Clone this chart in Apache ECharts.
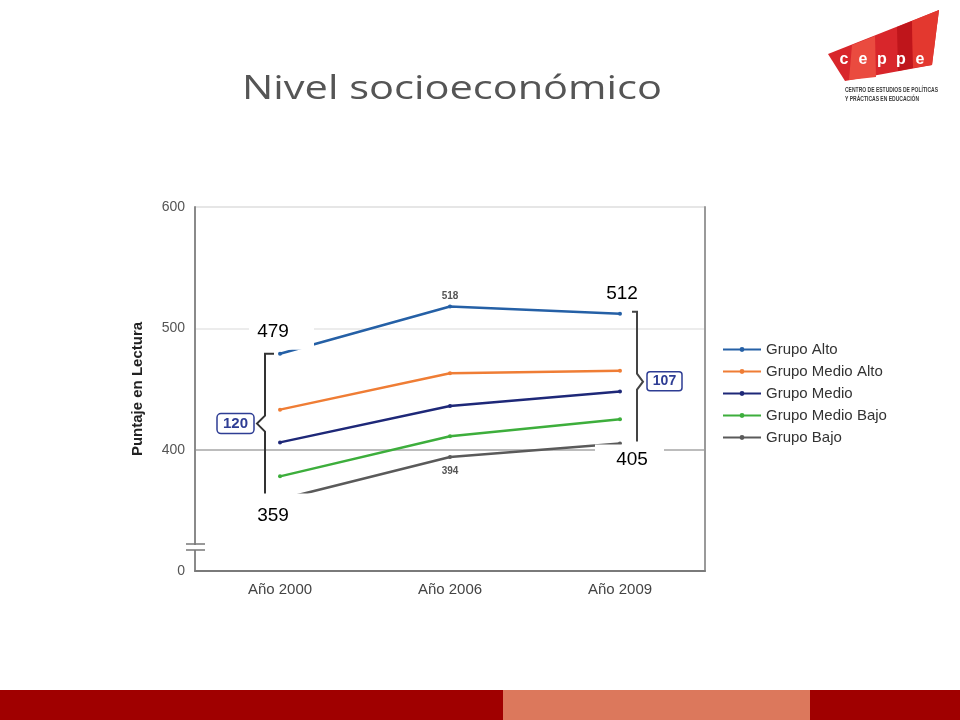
<!DOCTYPE html>
<html>
<head>
<meta charset="utf-8">
<script src="https://cdn.jsdelivr.net/npm/echarts@6/dist/echarts.min.js"></script>
<style>
html,body{margin:0;padding:0;background:#fff;}
#chart{width:960px;height:720px;}
</style>
</head>
<body>
<div id="chart"></div>
<script>
// ---- data ----
const titleText = 'Nivel socioeconómico';
const categories = ['Año 2000', 'Año 2006', 'Año 2009'];
const seriesNames = ['Grupo Alto', 'Grupo Medio Alto', 'Grupo Medio', 'Grupo Medio Bajo', 'Grupo Bajo'];
const grupoAlto = [479, 518, 512];
const grupoMedioAlto = [433, 463, 465];
const grupoMedio = [406, 436, 448];
const grupoMedioBajo = [378, 411, 425];
const grupoBajo = [359, 394, 405];
const yTickLabels = ['0', '400', '500', '600'];
const yTickValues = [300, 400, 500, 600];
const axisName = 'Puntaje en Lectura';
const logoWord = ['c', 'e', 'p', 'p', 'e'];
const logoLines = ['CENTRO DE ESTUDIOS DE POLÍTICAS', 'Y PRÁCTICAS EN EDUCACIÓN'];

const colors = ['#2560a6', '#ef7d35', '#1e2878', '#3dae3c', '#5a5a5a'];
const allSeries = [grupoAlto, grupoMedioAlto, grupoMedio, grupoMedioBajo, grupoBajo];

const chart = echarts.init(document.getElementById('chart'), null, {renderer: 'canvas'});

function buildData(arr, sIdx) {
  return arr.map(function (v, i) {
    if (sIdx === 0 && i === 1) {
      return {value: v, label: {show: true, position: 'top', distance: 3, fontSize: 10, fontWeight: 'bold', color: '#555', fontFamily: 'Arial'}};
    }
    if (sIdx === 4 && i === 1) {
      return {value: v, label: {show: true, position: 'bottom', distance: 7, fontSize: 10, fontWeight: 'bold', color: '#555', fontFamily: 'Arial'}};
    }
    return v;
  });
}

const option = {
  animation: false,
  backgroundColor: '#ffffff',
  color: colors,
  grid: {left: 195, right: 255, top: 207, bottom: 149},
  legend: {
    orient: 'vertical', left: 717, top: 337,
    itemWidth: 38, itemHeight: 6, itemGap: 7,
    data: seriesNames,
    textStyle: {fontFamily: 'Arial', fontSize: 15, color: '#333', lineHeight: 14}
  },
  xAxis: {
    type: 'category', data: categories, boundaryGap: true,
    axisLine: {lineStyle: {color: '#7a7a7a', width: 2}},
    axisTick: {inside: true, alignWithLabel: true, length: 7, lineStyle: {color: '#777'}},
    axisLabel: {fontFamily: 'Arial', fontSize: 15, color: '#444', margin: 11}
  },
  yAxis: [{
    type: 'value', min: 300, max: 600, interval: 100,
    name: axisName, nameLocation: 'middle', nameGap: 50,
    nameTextStyle: {fontFamily: 'Arial', fontWeight: 'bold', fontSize: 15, color: '#222'},
    axisLine: {show: true, lineStyle: {color: '#8a8a8a', width: 2}},
    axisTick: {show: false},
    axisLabel: {
      fontFamily: 'Arial', fontSize: 14, color: '#555', margin: 10,
      formatter: function (v) { const k = yTickValues.indexOf(v); return k >= 0 ? yTickLabels[k] : ''; }
    },
    splitLine: {lineStyle: {color: ['#888888', '#a6a6a6', '#e6e6e6', '#dedede'], width: 1.5}}
  }, {
    type: 'value', position: 'right', min: 300, max: 600, interval: 100,
    axisLine: {show: true, lineStyle: {color: '#9a9a9a', width: 2}},
    axisLabel: {show: false}, axisTick: {show: false}, splitLine: {show: false}
  }],
  series: allSeries.map(function (arr, i) {
    return {
      name: seriesNames[i], type: 'line', data: buildData(arr, i),
      symbol: 'circle', symbolSize: 4, showSymbol: true,
      lineStyle: {width: 2.5, color: colors[i]},
      itemStyle: {color: colors[i]},
      z: 2
    };
  })
};
chart.setOption(option);

// ---- annotations positioned through the chart's scales ----
function px(ci, v) { return chart.convertToPixel({gridIndex: 0}, [ci, v]); }
const g = [];
const Z = 100;
const cv = document.createElement('canvas').getContext('2d');
function fitScale(text, font, width) { cv.font = font; const w = cv.measureText(text).width; return w > 0 ? width / w : 1; }

// left brace (Año 2000: alto vs bajo)
const lTop = px(0, grupoAlto[0]);
const lBot = px(0, grupoBajo[0]);
const lx = lTop[0] - 15;
const lMid = (lTop[1] + lBot[1]) / 2 - 3;
g.push({type: 'polyline', z: Z, shape: {points: [[lx + 9, lTop[1]], [lx, lTop[1]], [lx, lMid - 8], [lx - 8, lMid], [lx, lMid + 8], [lx, lBot[1]]]}, style: {stroke: '#333', lineWidth: 2, fill: null}});
// right brace (Año 2009)
const rTop = px(2, grupoAlto[2]);
const rBot = px(2, grupoBajo[2]);
const rx = rTop[0] + 17;
const rMid = (rTop[1] + rBot[1]) / 2 + 3;
g.push({type: 'polyline', z: Z, shape: {points: [[rx - 5, rTop[1] - 2], [rx, rTop[1] - 2], [rx, rMid - 8], [rx + 6, rMid], [rx, rMid + 8], [rx, rBot[1] - 2]]}, style: {stroke: '#444', lineWidth: 2, fill: null}});

// gap boxes
const gapL = grupoAlto[0] - grupoBajo[0];
const gapR = grupoAlto[2] - grupoBajo[2];
g.push({type: 'rect', z: Z, shape: {x: lx - 48, y: lMid - 10, width: 37, height: 20, r: 4}, style: {fill: '#fff', stroke: '#2e3d94', lineWidth: 1.5}});
g.push({type: 'text', z: Z + 1, style: {x: lx - 29.5, y: lMid, text: String(gapL), fill: '#2e3d94', font: 'bold 15px Arial', align: 'center', verticalAlign: 'middle'}});
g.push({type: 'rect', z: Z, shape: {x: rx + 10, y: rMid - 10, width: 35, height: 19, r: 3}, style: {fill: '#fff', stroke: '#2e3d94', lineWidth: 1.5}});
g.push({type: 'text', z: Z + 1, style: {x: rx + 27.5, y: rMid - 0.5, text: String(gapR), fill: '#2e3d94', font: 'bold 14px Arial', align: 'center', verticalAlign: 'middle'}});

// big value labels with white backgrounds
function bigLabel(p, dx, dy, txt, box) {
  if (box) g.push({type: 'rect', z: Z, shape: {x: p[0] + box[0], y: p[1] + box[1], width: box[2], height: box[3]}, style: {fill: '#fff'}});
  g.push({type: 'text', z: Z + 1, style: {x: p[0] + dx, y: p[1] + dy, text: txt, fill: '#000', font: '19px Arial', align: 'center', verticalAlign: 'middle'}});
}
bigLabel(lTop, -7, -22, String(grupoAlto[0]), [-31, -38, 65, 34]);
bigLabel(lBot, -7, 16, String(grupoBajo[0]), [-31, -6, 62, 42]);
bigLabel(rTop, 2, -20, String(grupoAlto[2]), null);
bigLabel(rBot, 12, 16, String(grupoBajo[2]), [-25, 1, 69, 30]);

// axis break mark
g.push({type: 'rect', z: Z, shape: {x: 188, y: 545, width: 16, height: 5}, style: {fill: '#fff'}});
g.push({type: 'line', z: Z, shape: {x1: 186, y1: 544, x2: 205, y2: 544}, style: {stroke: '#777', lineWidth: 1.5}});
g.push({type: 'line', z: Z, shape: {x1: 186, y1: 550, x2: 205, y2: 550}, style: {stroke: '#777', lineWidth: 1.5}});

// title (stretched to match)
const titleFont = '33px "Open Sans"';
g.push({type: 'text', z: Z, x: 452, y: 90, scaleX: fitScale(titleText, titleFont, 420), style: {x: 0, y: 0, text: titleText, fill: '#555555', font: titleFont, align: 'center', verticalAlign: 'middle'}});

// footer bars
g.push({type: 'rect', z: Z, shape: {x: 0, y: 690, width: 503, height: 30}, style: {fill: '#a00000'}});
g.push({type: 'rect', z: Z, shape: {x: 503, y: 690, width: 307, height: 30}, style: {fill: '#dc785c'}});
g.push({type: 'rect', z: Z, shape: {x: 810, y: 690, width: 150, height: 30}, style: {fill: '#a00000'}});

// logo
g.push({type: 'polygon', z: Z, shape: {points: [[828, 54], [939, 10], [932, 65], [845, 81]]}, style: {fill: '#d8262b'}});
g.push({type: 'polygon', z: Z, shape: {points: [[852, 45], [875, 36], [876, 77], [849, 80]]}, style: {fill: '#ea4b3f'}});
g.push({type: 'polygon', z: Z, shape: {points: [[897, 27], [912, 21], [913, 68], [898, 71]]}, style: {fill: '#bf151b'}});
g.push({type: 'polygon', z: Z, shape: {points: [[912, 21], [939, 10], [932, 65], [913, 68]]}, style: {fill: '#e3382f'}});
logoWord.forEach(function (ch, i) {
  g.push({type: 'text', z: Z + 1, style: {x: 844 + i * 19, y: 60, text: ch, fill: '#fff', font: 'bold 16px Arial', align: 'center', verticalAlign: 'middle'}});
});
const logoFont = 'bold 7px Arial';
const logoScale = fitScale(logoLines[0], logoFont, 93);
logoLines.forEach(function (t, i) {
  g.push({type: 'text', z: Z + 1, x: 845, y: 90 + i * 9, scaleX: logoScale, style: {x: 0, y: 0, text: t, fill: '#3a3a3a', font: logoFont, align: 'left', verticalAlign: 'middle'}});
});

chart.setOption({graphic: g});
</script>
</body>
</html>
